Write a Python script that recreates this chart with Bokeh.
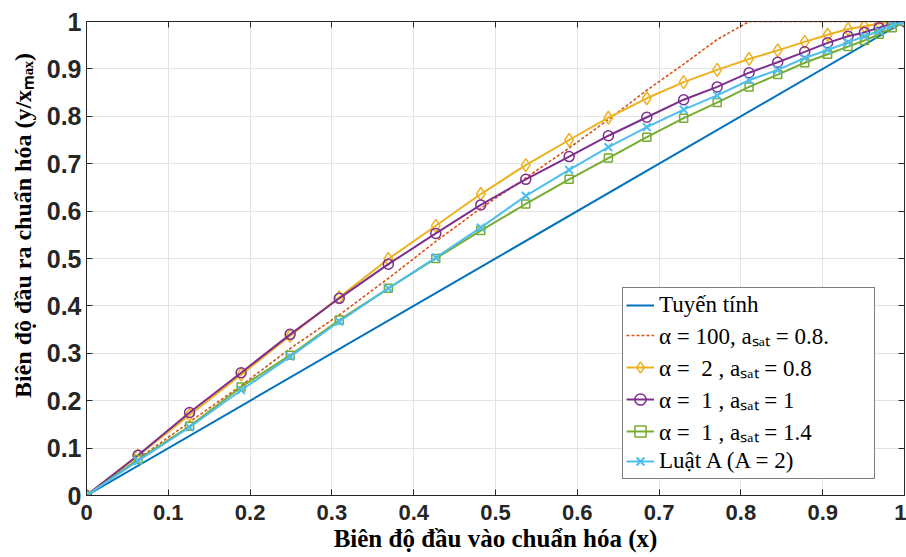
from bokeh.plotting import figure
from bokeh.models import LinearAxis, FixedTicker, Legend, LegendItem, Range1d
from bokeh.embed import file_html
from bokeh.resources import INLINE

# ---------------- data ----------------
x_pts = [0, 0.063, 0.126, 0.189, 0.249, 0.309, 0.369, 0.427, 0.482, 0.537, 0.590, 0.638,
         0.685, 0.730, 0.771, 0.810, 0.845, 0.878, 0.906, 0.931, 0.951, 0.969, 0.985, 1.0]

x_linear = [0, 1]
y_linear = [0, 1]

y_alpha100 = [0, 0.077, 0.155, 0.232, 0.310, 0.381, 0.458, 0.536, 0.606, 0.670, 0.733, 0.793,
              0.855, 0.910, 0.962, 1.0, 1.0, 1.0, 1.0, 1.0, 1.0, 1.0, 1.0, 1.0]
y_alpha2 = [0, 0.084, 0.170, 0.255, 0.337, 0.418, 0.499, 0.569, 0.636, 0.697, 0.750, 0.797,
            0.838, 0.872, 0.898, 0.921, 0.939, 0.957, 0.972, 0.984, 0.990, 0.996, 1.0, 1.0]
y_alpha1_s1 = [0, 0.085, 0.175, 0.259, 0.340, 0.416, 0.488, 0.553, 0.613, 0.667, 0.715, 0.759,
               0.798, 0.835, 0.862, 0.892, 0.914, 0.936, 0.955, 0.969, 0.977, 0.987, 0.996, 1.0]
y_alpha1_s14 = [0, 0.076, 0.146, 0.229, 0.296, 0.370, 0.437, 0.500, 0.559, 0.615, 0.667, 0.712,
                0.756, 0.796, 0.829, 0.862, 0.888, 0.913, 0.931, 0.947, 0.960, 0.973, 0.987, 1.0]
y_alaw = [0, 0.073, 0.144, 0.222, 0.293, 0.367, 0.437, 0.502, 0.565, 0.632, 0.687, 0.735,
          0.777, 0.814, 0.844, 0.876, 0.898, 0.923, 0.940, 0.956, 0.969, 0.980, 0.992, 1.0]

tick_values = [0, 0.1, 0.2, 0.3, 0.4, 0.5, 0.6, 0.7, 0.8, 0.9, 1]
tick_labels = ["0", "0.1", "0.2", "0.3", "0.4", "0.5", "0.6", "0.7", "0.8", "0.9", "1"]

legend_labels = [
    "Tuyến tính",
    "α = 100, aₛₐₜ = 0.8.",
    "α =  2 , aₛₐₜ = 0.8",
    "α =  1 , aₛₐₜ = 1",
    "α =  1 , aₛₐₜ = 1.4",
    "Luật A (A = 2)",
]

x_title = "Biên độ đầu vào chuẩn hóa (x)"
y_title = "Biên độ đầu ra chuẩn hóa (y/xₘₐₓ)"

# ---------------- styling ----------------
C_BLUE = "#0072BD"
C_RED = "#D95319"
C_YEL = "#EDB120"
C_PUR = "#7E2F8E"
C_GRN = "#77AC30"
C_CYN = "#4DBEEE"
AX = "#262626"

p = figure(width=906, height=557, output_backend="svg", toolbar_location=None,
           x_range=Range1d(0, 1), y_range=Range1d(0, 1),
           min_border_left=86, min_border_right=2, min_border_top=21, min_border_bottom=62,
           background_fill_color="white", border_fill_color="white")

p.outline_line_color = AX
p.outline_line_width = 1

overrides = dict(zip(tick_values, tick_labels))
blank_overrides = dict(zip(tick_values, [""] * len(tick_values)))

for ax in (p.xaxis[0], p.yaxis[0]):
    ax.ticker = FixedTicker(ticks=tick_values)
    ax.major_label_overrides = overrides
    ax.major_tick_in = 6
    ax.major_tick_out = 0
    ax.minor_tick_in = 0
    ax.minor_tick_out = 0
    ax.axis_line_color = AX
    ax.major_tick_line_color = AX
    ax.major_label_text_color = AX
    ax.major_label_text_font = "Liberation Sans"
    ax.major_label_text_font_style = "bold"
    ax.axis_label_text_font = "Liberation Serif"
    ax.axis_label_text_font_style = "bold"
    ax.axis_label_text_color = "black"

p.xaxis[0].axis_label_text_font_size = "25px"
p.yaxis[0].axis_label_text_font_size = "24px"
p.xaxis[0].major_label_text_font_size = "22px"
p.yaxis[0].major_label_text_font_size = "25px"
p.xaxis[0].major_label_standoff = 9
p.yaxis[0].major_label_standoff = 5
p.xaxis[0].axis_label = x_title
# leading no-break spaces shift the rotated title upward, as in the reference
p.yaxis[0].axis_label = "\u00a0" * 11 + y_title
p.xaxis[0].axis_label_standoff = 2
p.yaxis[0].axis_label_standoff = 8

for loc in ("above", "right"):
    ax = LinearAxis(ticker=FixedTicker(ticks=tick_values))
    ax.major_label_overrides = blank_overrides
    ax.major_label_text_font_size = "10px"
    ax.major_label_standoff = 0
    ax.major_tick_in = 6
    ax.major_tick_out = 0
    ax.minor_tick_in = 0
    ax.minor_tick_out = 0
    ax.axis_line_color = AX
    ax.major_tick_line_color = AX
    p.add_layout(ax, loc)

p.xgrid.ticker = FixedTicker(ticks=tick_values)
p.ygrid.ticker = FixedTicker(ticks=tick_values)
p.xgrid.grid_line_color = "#E3E3E3"
p.ygrid.grid_line_color = "#E3E3E3"
p.xgrid.grid_line_width = 1
p.ygrid.grid_line_width = 1

# ---------------- series ----------------
r_lin = p.line(x_linear, y_linear, line_color=C_BLUE, line_width=2)

r_red = p.line(x_pts, y_alpha100, line_color=C_RED, line_width=1.6, line_dash="3 2")

r_yl = p.line(x_pts, y_alpha2, line_color=C_YEL, line_width=2)
r_ym = p.scatter(x_pts, y_alpha2, marker="diamond", size=13, line_color=C_YEL,
                 line_width=1.5, fill_alpha=0)

r_pl = p.line(x_pts, y_alpha1_s1, line_color=C_PUR, line_width=2)
r_pm = p.scatter(x_pts, y_alpha1_s1, marker="circle", size=10, line_color=C_PUR,
                 line_width=1.5, fill_alpha=0)

r_gl = p.line(x_pts, y_alpha1_s14, line_color=C_GRN, line_width=2)
r_gm = p.scatter(x_pts, y_alpha1_s14, marker="square", size=8, line_color=C_GRN,
                 line_width=1.5, fill_alpha=0)

r_cl = p.line(x_pts, y_alaw, line_color=C_CYN, line_width=2)
r_cm = p.scatter(x_pts, y_alaw, marker="x", size=11, line_color=C_CYN, line_width=2)

items = [
    LegendItem(label=legend_labels[0], renderers=[r_lin]),
    LegendItem(label=legend_labels[1], renderers=[r_red]),
    LegendItem(label=legend_labels[2], renderers=[r_yl, r_ym]),
    LegendItem(label=legend_labels[3], renderers=[r_pl, r_pm]),
    LegendItem(label=legend_labels[4], renderers=[r_gl, r_gm]),
    LegendItem(label=legend_labels[5], renderers=[r_cl, r_cm]),
]
legend = Legend(items=items, location=(536, 16))
legend.label_text_font = "Liberation Serif"
legend.label_text_font_size = "23px"
legend.label_text_color = "black"
legend.glyph_width = 28
legend.glyph_height = 28
legend.label_height = 28
legend.label_width = 212
legend.label_standoff = 5
legend.spacing = 0
legend.padding = 3
legend.margin = 0
legend.border_line_color = "black"
legend.border_line_width = 1
legend.background_fill_color = "white"
legend.background_fill_alpha = 1
p.add_layout(legend, "center")

open("out.html", "w").write(file_html(p, INLINE))
